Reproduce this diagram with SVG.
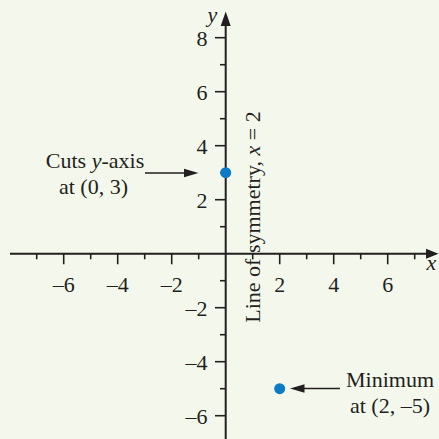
<svg xmlns="http://www.w3.org/2000/svg" width="439" height="439" viewBox="0 0 439 439">
<defs>
<style>
.ax{stroke:#231f20;stroke-width:2;fill:none}
.tk{stroke:#231f20;stroke-width:1.6}
.ld{stroke:#231f20;stroke-width:1.6;fill:none}
.ah{fill:#231f20}
text{font-family:"Liberation Serif","Times New Roman",serif;font-size:22px;fill:#231f20}
.xl{text-anchor:middle}
.yl{text-anchor:end}
.it{font-style:italic}
.pt{fill:#0a7bc6}
</style>
</defs>
<rect width="439" height="439" fill="#f4f8ec"/>
<g id="axes">
<line class="ax" x1="10" y1="253.7" x2="430" y2="253.7"/>
<path class="ah" d="M438.5,253.7 L426,248.7 L426,258.7 Z"/>
<line class="ax" x1="225.7" y1="439" x2="225.7" y2="22"/>
<path class="ah" d="M225.7,11.5 L220.7,26 L230.7,26 Z"/>
<g id="xticks">
<line class="tk" x1="36.7" y1="253.7" x2="36.7" y2="259.3"/>
<line class="tk" x1="63.7" y1="253.7" x2="63.7" y2="264.3"/>
<line class="tk" x1="90.7" y1="253.7" x2="90.7" y2="259.3"/>
<line class="tk" x1="117.7" y1="253.7" x2="117.7" y2="264.3"/>
<line class="tk" x1="144.7" y1="253.7" x2="144.7" y2="259.3"/>
<line class="tk" x1="171.7" y1="253.7" x2="171.7" y2="264.3"/>
<line class="tk" x1="198.7" y1="253.7" x2="198.7" y2="259.3"/>
<line class="tk" x1="252.7" y1="253.7" x2="252.7" y2="259.3"/>
<line class="tk" x1="279.7" y1="253.7" x2="279.7" y2="264.3"/>
<line class="tk" x1="306.7" y1="253.7" x2="306.7" y2="259.3"/>
<line class="tk" x1="333.7" y1="253.7" x2="333.7" y2="264.3"/>
<line class="tk" x1="360.7" y1="253.7" x2="360.7" y2="259.3"/>
<line class="tk" x1="387.7" y1="253.7" x2="387.7" y2="264.3"/>
<line class="tk" x1="414.7" y1="253.7" x2="414.7" y2="259.3"/>
</g>
<g id="yticks">
<line class="tk" x1="215" y1="37.7" x2="225.7" y2="37.7"/>
<line class="tk" x1="220" y1="64.7" x2="225.7" y2="64.7"/>
<line class="tk" x1="215" y1="91.7" x2="225.7" y2="91.7"/>
<line class="tk" x1="220" y1="118.7" x2="225.7" y2="118.7"/>
<line class="tk" x1="215" y1="145.7" x2="225.7" y2="145.7"/>
<line class="tk" x1="220" y1="172.7" x2="225.7" y2="172.7"/>
<line class="tk" x1="215" y1="199.7" x2="225.7" y2="199.7"/>
<line class="tk" x1="220" y1="226.7" x2="225.7" y2="226.7"/>
<line class="tk" x1="220" y1="280.7" x2="225.7" y2="280.7"/>
<line class="tk" x1="215" y1="307.7" x2="225.7" y2="307.7"/>
<line class="tk" x1="220" y1="334.7" x2="225.7" y2="334.7"/>
<line class="tk" x1="215" y1="361.7" x2="225.7" y2="361.7"/>
<line class="tk" x1="220" y1="388.7" x2="225.7" y2="388.7"/>
<line class="tk" x1="215" y1="415.7" x2="225.7" y2="415.7"/>
</g>
<g id="xlabels">
<text class="xl" x="63.7" y="291.5">–6</text>
<text class="xl" x="117.7" y="291.5">–4</text>
<text class="xl" x="171.7" y="291.5">–2</text>
<text class="xl" x="279.7" y="291.5">2</text>
<text class="xl" x="333.7" y="291.5">4</text>
<text class="xl" x="387.7" y="291.5">6</text>
</g>
<g id="ylabels">
<text class="yl" x="207.5" y="46">8</text>
<text class="yl" x="207.5" y="100">6</text>
<text class="yl" x="207.5" y="154">4</text>
<text class="yl" x="207.5" y="208">2</text>
<text class="yl" x="207.5" y="316">–2</text>
<text class="yl" x="207.5" y="370">–4</text>
<text class="yl" x="207.5" y="424">–6</text>
</g>
<text class="it" x="207.5" y="22">y</text>
<text class="it" x="426.5" y="270">x</text>
</g>
<g id="symmetry">
<text transform="translate(260,322.7) rotate(-90)">Line of symmetry, <tspan class="it">x</tspan> = 2</text>
</g>
<g id="point-yint">
<circle class="pt" cx="225.7" cy="172.7" r="5.5"/>
</g>
<g id="point-min">
<circle class="pt" cx="279.7" cy="388.7" r="5.5"/>
</g>
<g id="label-yint">
<text class="xl" x="95" y="168.3">Cuts <tspan class="it">y</tspan>-axis</text>
<text class="xl" x="93.5" y="194.3">at (0, 3)</text>
</g>
<g id="label-min">
<text class="xl" x="390" y="386.7">Minimum</text>
<text class="xl" x="390" y="413.3">at (2, –5)</text>
</g>
<g id="connectors">
<line class="ld" x1="145" y1="173" x2="186" y2="173"/>
<path class="ah" d="M198.5,173 L184,168.8 L184,177.2 Z"/>
<line class="ld" x1="340" y1="388.5" x2="302" y2="388.5"/>
<path class="ah" d="M290,388.5 L304.5,384.3 L304.5,392.7 Z"/>
</g>
</svg>
